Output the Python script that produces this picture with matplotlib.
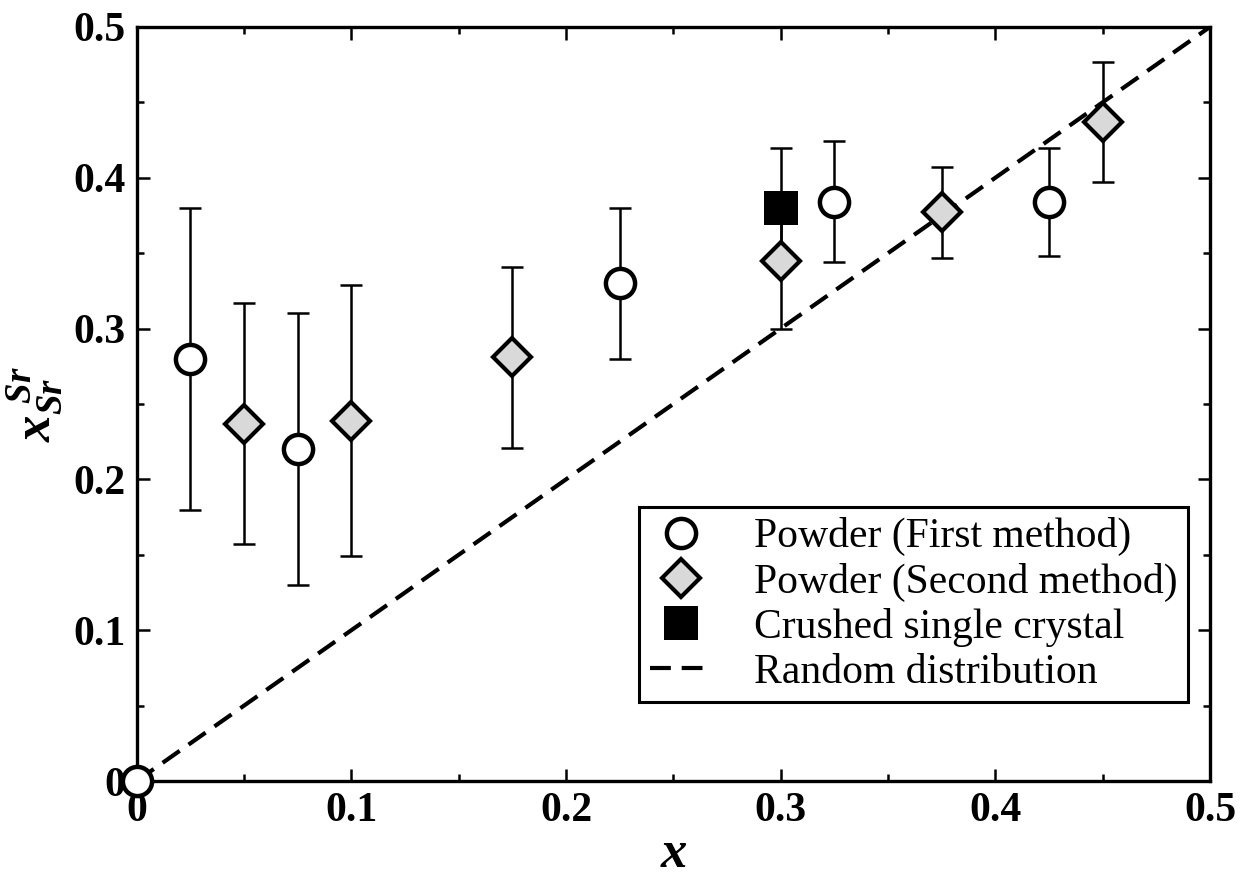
import matplotlib
matplotlib.use("Agg")
import matplotlib.pyplot as plt
from matplotlib.ticker import MultipleLocator, FuncFormatter

plt.rcParams['font.family'] = ['Liberation Serif', 'DejaVu Serif']
plt.rcParams['mathtext.fontset'] = 'custom'
plt.rcParams['mathtext.it'] = 'Liberation Serif:italic:bold'
plt.rcParams['mathtext.rm'] = 'Liberation Serif:bold'
plt.rcParams['mathtext.bf'] = 'Liberation Serif:bold'

# Powder (First method)
x1 = [0.0, 0.025, 0.075, 0.225, 0.325, 0.425]
y1 = [0.0, 0.28, 0.22, 0.33, 0.384, 0.384]
e1 = [0.0, 0.10, 0.09, 0.05, 0.04, 0.036]

# Powder (Second method)
x2 = [0.05, 0.10, 0.175, 0.30, 0.375, 0.45]
y2 = [0.237, 0.239, 0.281, 0.345, 0.377, 0.437]
e2 = [0.08, 0.09, 0.06, 0.045, 0.03, 0.04]

# Crushed single crystal
x3 = [0.30]
y3 = [0.38]
e3 = [0.04]

# Random distribution
xr = [0.0, 0.5]
yr = [0.0, 0.5]

fig = plt.figure(figsize=(12.43, 8.81), dpi=100)
ax = fig.add_axes([0.110, 0.1135, 0.8635, 0.856])

hr, = ax.plot(xr, yr, color='black', linestyle=(0, (5, 2.6)), linewidth=3, zorder=1,
              label='Random distribution')

for xs, ys, es in ((x1, y1, e1), (x2, y2, e2), (x3, y3, e3)):
    ax.errorbar(xs, ys, yerr=es, fmt='none', ecolor='black', elinewidth=1.8,
                capsize=8, capthick=1.8, zorder=2)

h1, = ax.plot(x1, y1, 'o', markersize=21, markerfacecolor='white',
              markeredgecolor='black', markeredgewidth=3.2, linestyle='none', zorder=3,
              label='Powder (First method)', clip_on=False)
h2, = ax.plot(x2, y2, 'D', markersize=19, markerfacecolor='#d9d9d9',
              markeredgecolor='black', markeredgewidth=3, linestyle='none', zorder=3,
              label='Powder (Second method)')
h3, = ax.plot(x3, y3, 's', markersize=25, markerfacecolor='black',
              markeredgecolor='black', markeredgewidth=0, linestyle='none', zorder=3,
              label='Crushed single crystal')

ax.set_xlim(0, 0.5)
ax.set_ylim(0, 0.5)
ax.xaxis.set_major_locator(MultipleLocator(0.1))
ax.xaxis.set_minor_locator(MultipleLocator(0.05))
ax.yaxis.set_major_locator(MultipleLocator(0.1))
ax.yaxis.set_minor_locator(MultipleLocator(0.05))
fmt = FuncFormatter(lambda v, p: '0' if abs(v) < 1e-9 else f'{v:.1f}')
ax.xaxis.set_major_formatter(fmt)
ax.yaxis.set_major_formatter(fmt)

ax.tick_params(which='both', direction='in', top=True, right=True, width=1.8)
ax.tick_params(which='major', length=9, labelsize=30, pad=8)
ax.tick_params(which='minor', length=5)
for lab in ax.get_xticklabels() + ax.get_yticklabels():
    lab.set_fontweight('bold')
for s in ax.spines.values():
    s.set_linewidth(2.4)

ax.set_xlabel(r'$x$', fontsize=38, labelpad=0)
ax.set_ylabel(r'$x_{Sr}^{\ Sr}$', fontsize=38, labelpad=6)

leg = ax.legend(handles=[h1, h2, h3, hr], loc='lower right',
                bbox_to_anchor=(0.9795, 0.1048), fontsize=30, frameon=True,
                fancybox=False, edgecolor='black', handlelength=1.5,
                borderpad=0.25, labelspacing=0.15, handletextpad=1.0,
                borderaxespad=0, framealpha=1)
leg.get_frame().set_linewidth(2.2)

fig.savefig('out.png', dpi=100)
